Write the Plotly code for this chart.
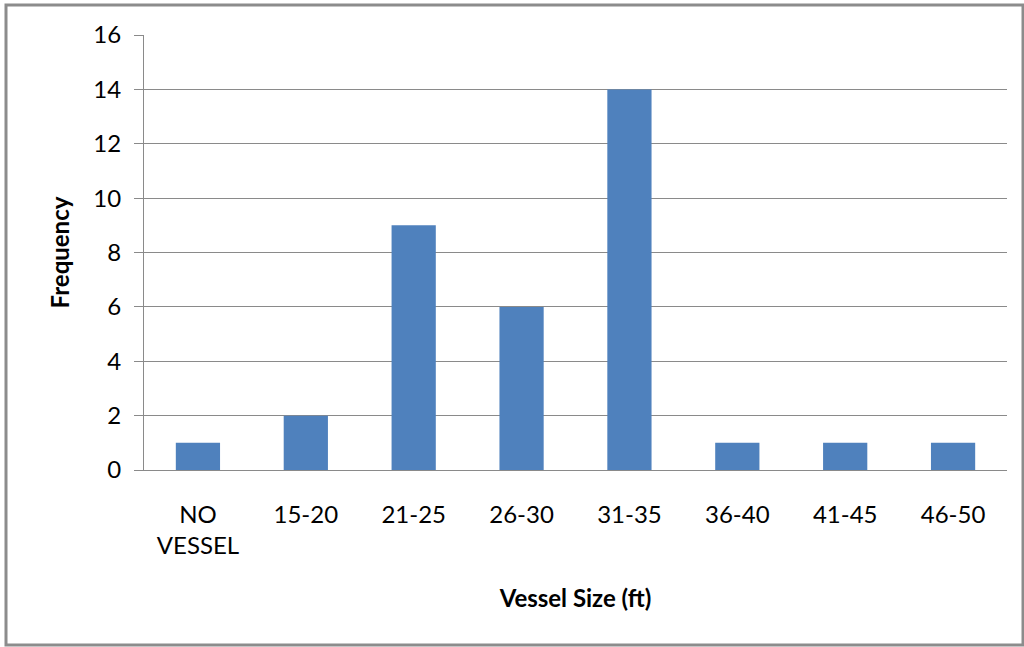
import plotly.graph_objects as go

# Vessel size histogram data
categories = ["NO<br>VESSEL", "15-20", "21-25", "26-30", "31-35", "36-40", "41-45", "46-50"]
frequency = [1, 2, 9, 6, 14, 1, 1, 1]
y_ticks = [0, 2, 4, 6, 8, 10, 12, 14, 16]

FONT = "Lato, 'Open Sans', sans-serif"
GRID = "#8a8a8a"
FS = 24

fig = go.Figure(
    go.Bar(
        x=categories,
        y=frequency,
        marker=dict(color="#4F81BD", line=dict(width=0)),
        width=0.41,
    )
)

W, H = 1024, 647
L, R, T, B = 144, 17, 35, 177
pw, ph = W - L - R, H - T - B


def px_x(x):
    return (x - L) / pw


def px_y(y):
    return (H - B - y) / ph


fig.update_layout(
    width=W,
    height=H,
    margin=dict(l=L, r=R, t=T, b=B),
    paper_bgcolor="white",
    plot_bgcolor="white",
    showlegend=False,
    font=dict(family=FONT, size=FS, color="#000000"),
    xaxis=dict(
        showline=True,
        linecolor=GRID,
        linewidth=1,
        ticks="",
        tickfont=dict(size=FS),
        ticklabelstandoff=23,
        title=dict(text="<b>Vessel Size (ft)</b>", font=dict(size=FS), standoff=32),
    ),
    yaxis=dict(
        range=[0, 16],
        tickvals=y_ticks,
        showgrid=True,
        gridcolor=GRID,
        gridwidth=1,
        showline=True,
        linecolor=GRID,
        linewidth=1,
        ticks="outside",
        ticklen=9,
        tickcolor=GRID,
        tickfont=dict(size=FS),
        ticklabelstandoff=8,
        zeroline=False,
        title=dict(text="<b>Frequency</b>", font=dict(size=FS), standoff=16),
    ),
    shapes=[
        # chart frame
        dict(
            type="rect",
            xref="paper",
            yref="paper",
            x0=px_x(6),
            x1=px_x(1023),
            y0=px_y(645),
            y1=px_y(5),
            line=dict(color="#8c8c8c", width=3),
            fillcolor="rgba(0,0,0,0)",
            layer="below",
        )
    ],
    bargap=0.59,
)

fig.write_html("out.html")
